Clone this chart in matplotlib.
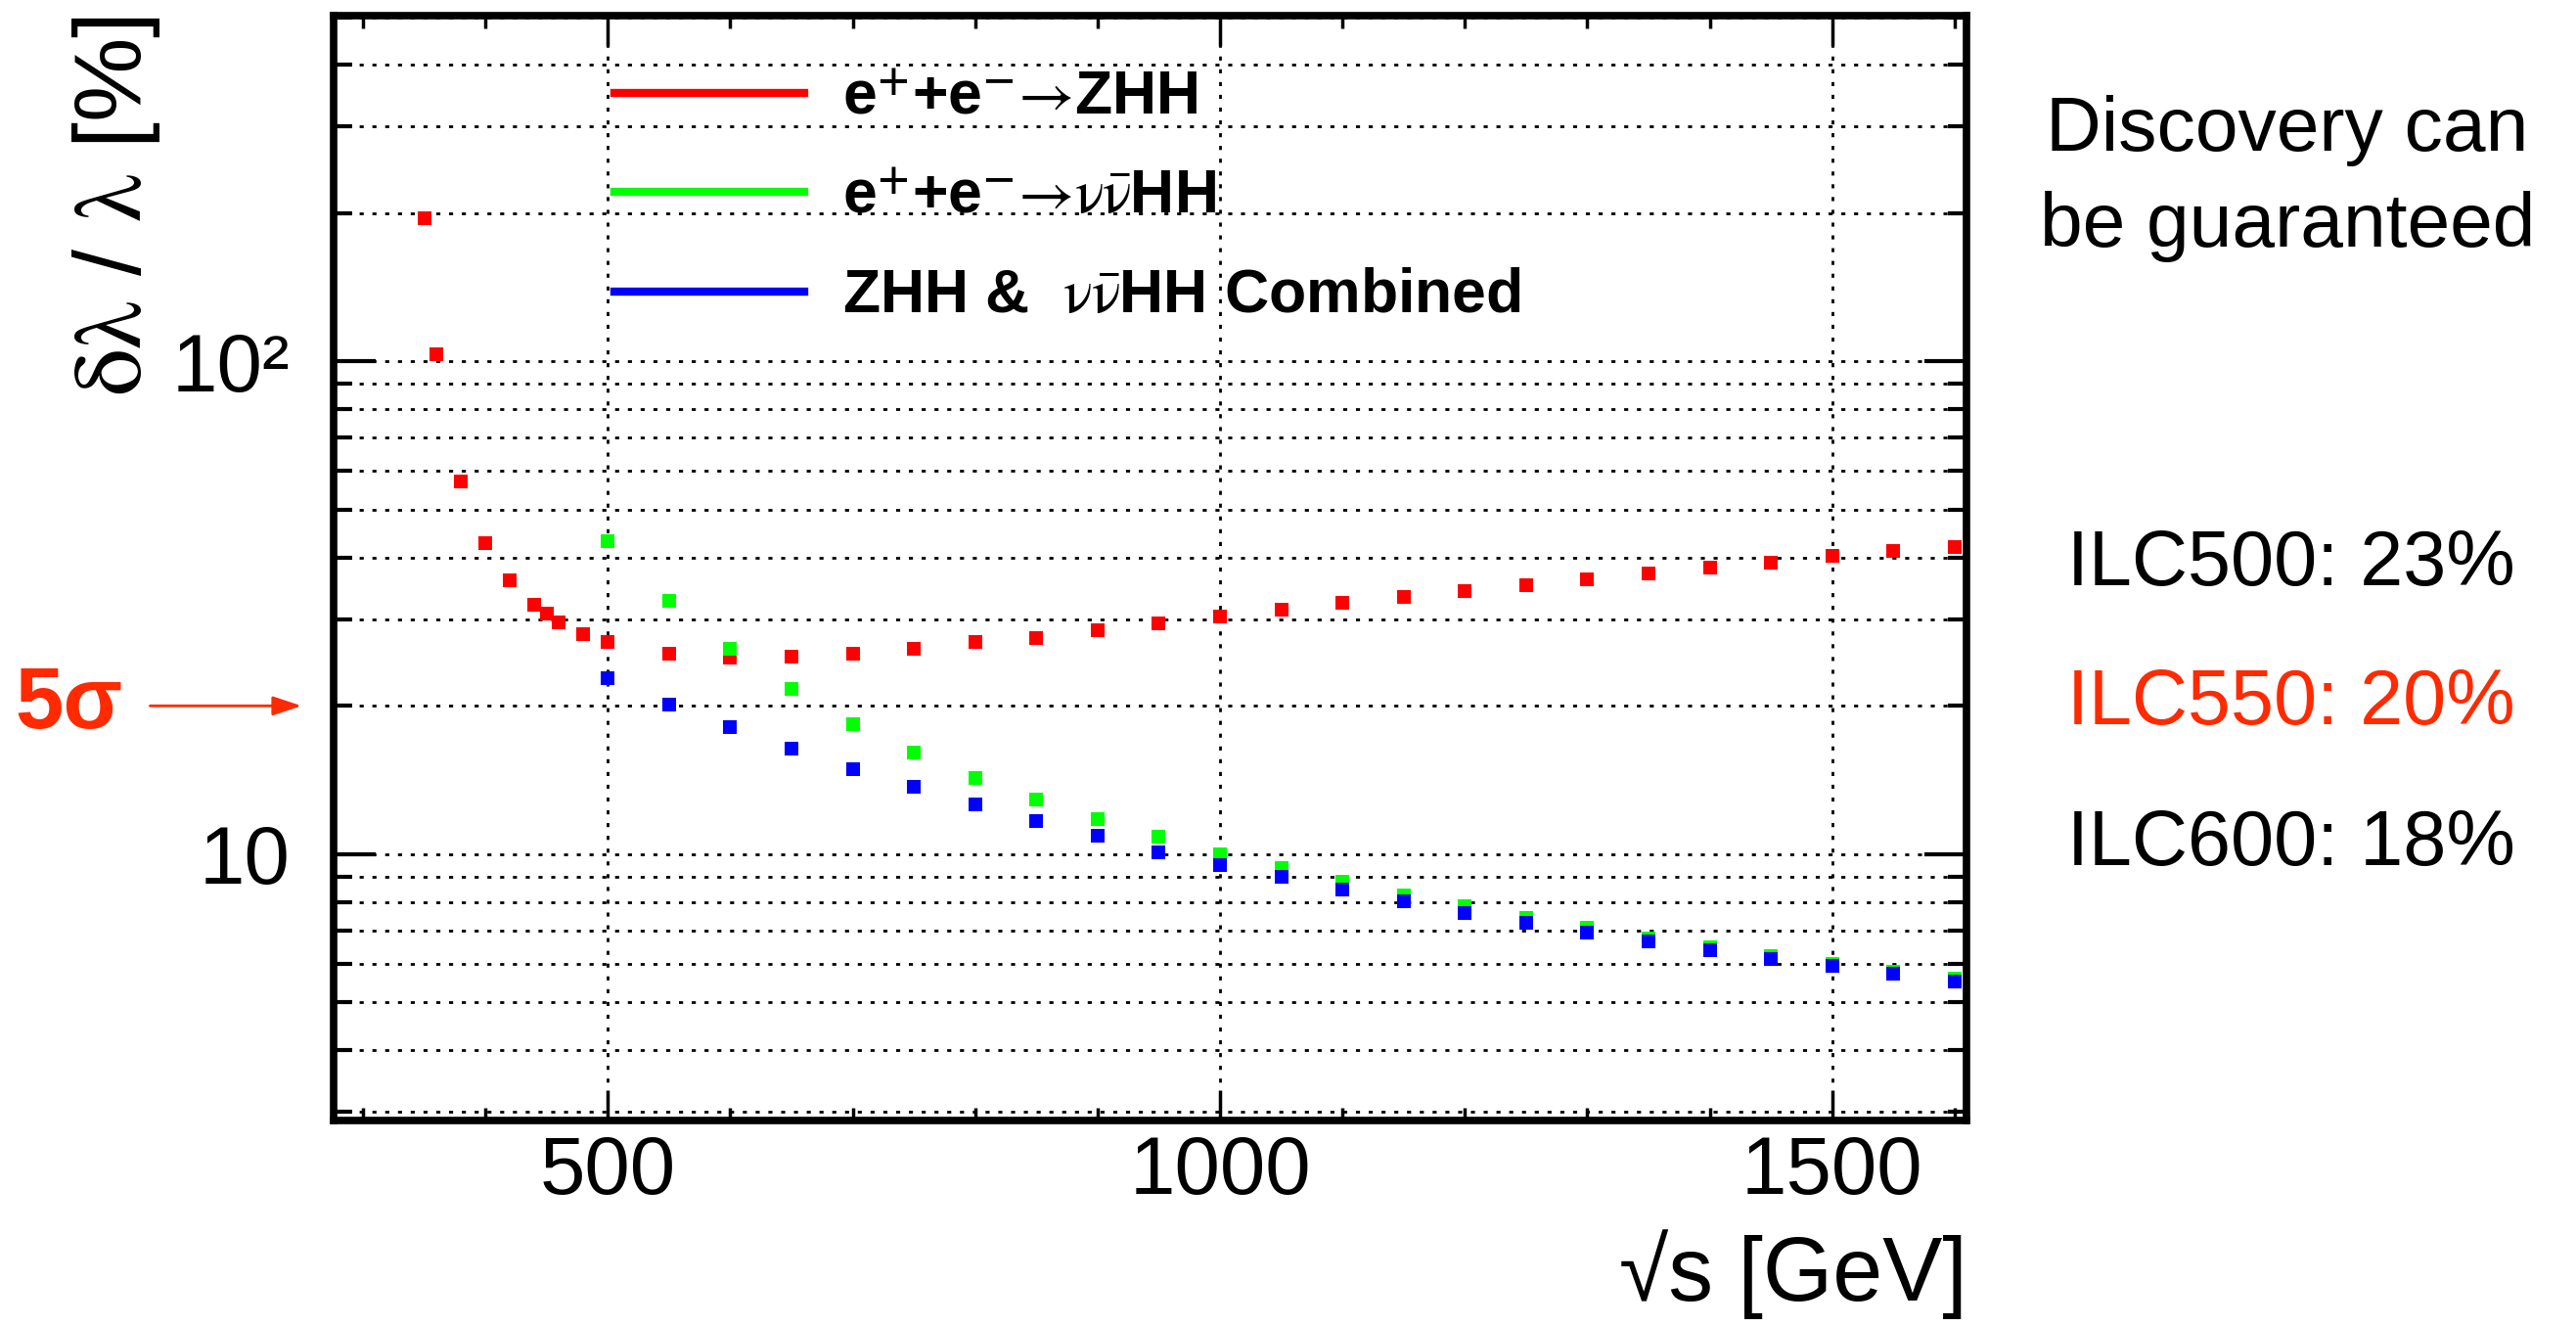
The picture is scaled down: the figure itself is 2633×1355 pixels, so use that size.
import numpy as np
import matplotlib
matplotlib.use("Agg")
import matplotlib.pyplot as plt
from matplotlib.lines import Line2D
from matplotlib.ticker import MultipleLocator, LogLocator, FuncFormatter, NullFormatter

plt.rcParams['font.family'] = ['Liberation Sans', 'DejaVu Sans']
plt.rcParams['mathtext.fontset'] = 'stix'

# sqrt(s) in GeV and precision on lambda in %
x_zhh = [350, 360, 380, 400, 420, 440, 450, 460, 480, 500,
         550, 600, 650, 700, 750, 800, 850, 900, 950, 1000, 1050,
         1100, 1150, 1200, 1250, 1300, 1350, 1400, 1450, 1500, 1550, 1600]
zhh = [195, 103.5, 57.2, 42.8, 35.9, 32.1, 30.8, 29.6, 28.0, 27.0,
       25.5, 25.1, 25.2, 25.5, 26.1, 26.9, 27.5, 28.5, 29.4, 30.4, 31.3,
       32.3, 33.2, 34.2, 35.2, 36.1, 37.1, 38.1, 39.1, 40.3, 41.2, 42.1]

x_vvhh = [500, 550, 600, 650, 700, 750, 800, 850, 900, 950, 1000, 1050,
          1100, 1150, 1200, 1250, 1300, 1350, 1400, 1450, 1500, 1550, 1600]
vvhh = [43.2, 32.6, 26.1, 21.6, 18.4, 16.1, 14.3, 12.9, 11.8, 10.85, 10.0, 9.37,
        8.81, 8.26, 7.83, 7.43, 7.08, 6.74, 6.48, 6.22, 6.0, 5.77, 5.59]
combined = [22.8, 20.1, 18.1, 16.4, 14.9, 13.7, 12.6, 11.7, 10.9, 10.1, 9.52, 9.0,
            8.49, 8.04, 7.61, 7.24, 6.94, 6.65, 6.38, 6.13, 5.92, 5.71, 5.52]

nunu = r'$\mathrm{ν\bar{ν}}$'
ee = r'e$^{\mathbf{+}}$+e$^{\mathbf{-}}$$→$'
labels = [ee + 'ZHH', ee + nunu + 'HH', 'ZHH &  ' + nunu + 'HH Combined']
colors = ['#ff0000', '#00ff00', '#0000ff']
ilc_text = ['ILC500: 23%', 'ILC550: 20%', 'ILC600: 18%']
ilc_colors = ['black', '#ff2a00', 'black']
five_sigma = 20

fig = plt.figure(figsize=(26.33, 13.55), dpi=100)
ax = fig.add_axes([0.1295, 0.155, 0.634, 0.833])

ax.plot(x_zhh, zhh, 's', color=colors[0], ms=10, mew=0, zorder=3)
ax.plot(x_vvhh, vvhh, 's', color=colors[1], ms=10, mew=0, zorder=4)
ax.plot(x_vvhh, combined, 's', color=colors[2], ms=10, mew=0, zorder=5)

ax.set_yscale('log')
ax.set_xlim(276, 1610)
ax.set_ylim(2.88, 503)

ax.xaxis.set_major_locator(MultipleLocator(500))
ax.xaxis.set_minor_locator(MultipleLocator(100))
ax.yaxis.set_major_locator(LogLocator(base=10))
ax.yaxis.set_minor_locator(LogLocator(base=10, subs=np.arange(2, 10)))
ax.yaxis.set_major_formatter(FuncFormatter(lambda v, p: {10: '10', 100: '10²'}.get(int(round(v)), '')))
ax.yaxis.set_minor_formatter(NullFormatter())

for s in ax.spines.values():
    s.set_linewidth(5.5)

ax.tick_params(axis='x', which='both', direction='in', top=True, bottom=True, labelsize=60, pad=10)
ax.tick_params(axis='x', which='major', length=22, width=2.5)
ax.tick_params(axis='x', which='minor', length=9.5, width=2.5)
ax.tick_params(axis='y', which='both', direction='in', left=True, right=True, labelsize=60, pad=32)
ax.tick_params(axis='y', which='major', length=31, width=3)
ax.tick_params(axis='y', which='minor', length=14, width=3)

ax.set_axisbelow(True)
ax.grid(True, axis='y', which='both', color='black', lw=2, ls=(0, (1.5, 3.2)))
ax.grid(True, axis='x', which='major', color='black', lw=2, ls=(0, (1.5, 3.2)))

ax.set_xlabel('√s [GeV]', fontsize=66, loc='right', labelpad=14)
ax.set_ylabel(r'$\mathrm{\delta\lambda}$ / $\mathrm{\lambda}$ [%]', fontsize=70, loc='top')
ax.yaxis.set_label_coords(-0.105, 1.0)

handles = [Line2D([], [], color=c, lw=6) for c in colors]
ax.legend(handles, labels, loc='upper left', bbox_to_anchor=(0.172, 0.952),
          frameon=False, prop={'weight': 'bold', 'size': 45},
          handlelength=3.1, handletextpad=0.62, borderpad=0, borderaxespad=0,
          labelspacing=0.68)

# 5 sigma marker
yt = ax.get_yaxis_transform()
ax.annotate('', xy=(-0.018, five_sigma), xytext=(-0.114, five_sigma), xycoords=yt,
            textcoords=yt, annotation_clip=False,
            arrowprops=dict(arrowstyle='-|>,head_length=0.9,head_width=0.3',
                            mutation_scale=20, color='#ff2a00', lw=2))
ax.text(-0.129, five_sigma, '5σ', transform=yt, ha='right', va='center',
        fontsize=64, fontweight='bold', color='#ff2a00')

fig.text(0.888, 0.8863, 'Discovery can', ha='center', va='baseline', fontsize=56.5)
fig.text(0.888, 0.814, 'be guaranteed', ha='center', va='baseline', fontsize=56.5)
for t, c, yy in zip(ilc_text, ilc_colors, [0.5587, 0.4539, 0.3476]):
    fig.text(0.8025, yy, t, ha='left', va='baseline', fontsize=57, color=c)

fig.savefig('out.png', dpi=100)
